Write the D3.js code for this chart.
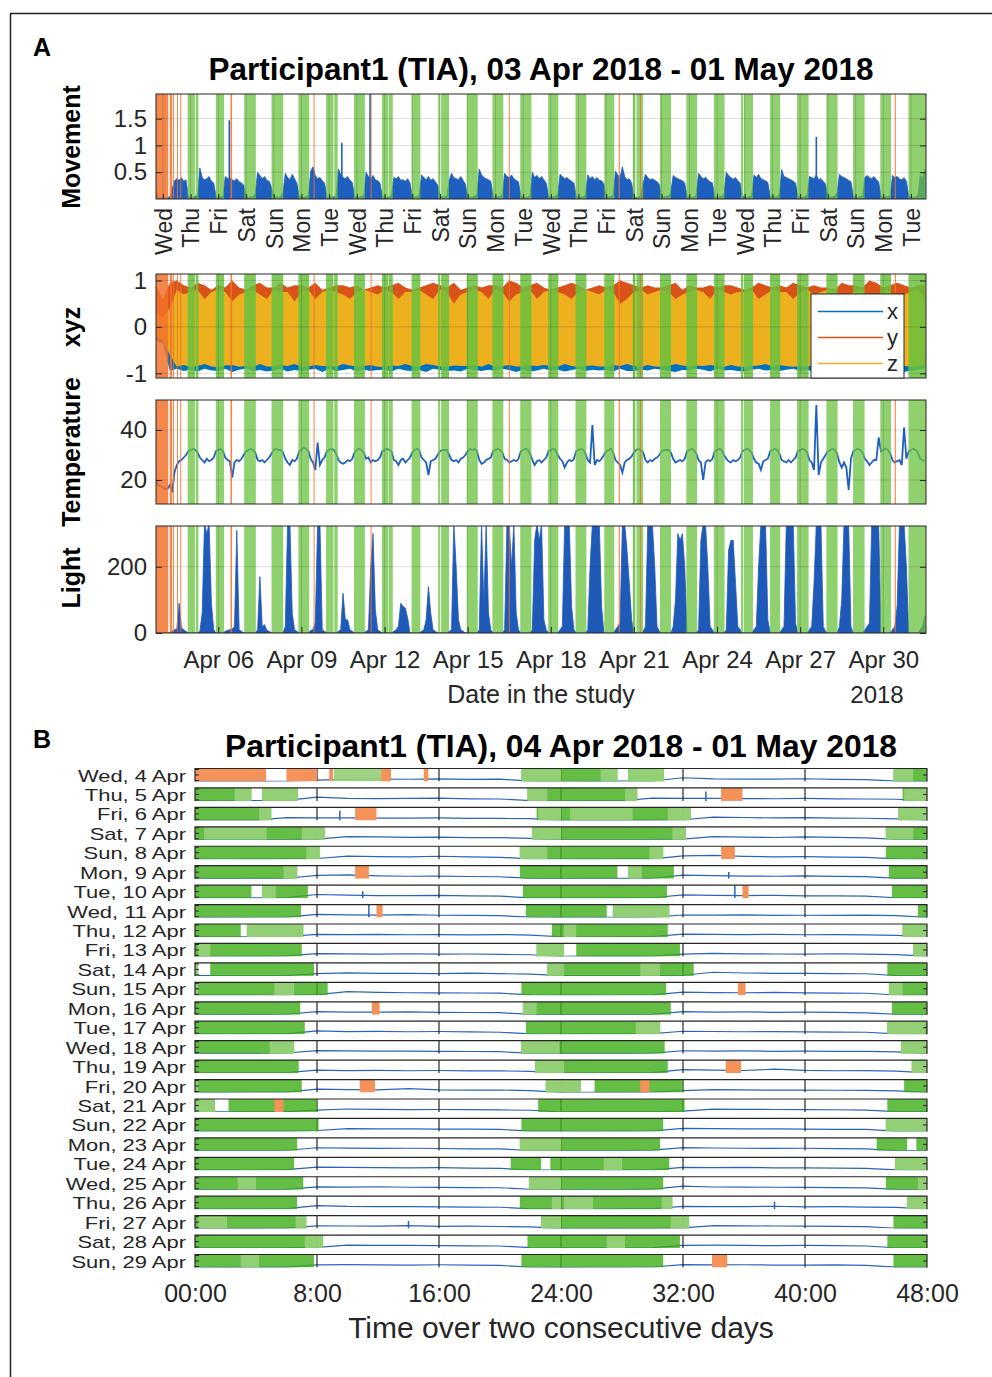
<!DOCTYPE html>
<html>
<head>
<meta charset="utf-8">
<script src="https://cdn.jsdelivr.net/npm/d3@7"></script>
<style>
  body { margin: 0; background: #fff; }
  svg text { font-family: "Liberation Sans", Arial, Helvetica, sans-serif; }
</style>
</head>
<body>
<svg id="fig" width="992" height="1377"></svg>
<script>
// all times are hours counted from Wed 4 Apr 2018 00:00
const studyStart = new Date(2018, 3, 4);
const sampleStart = -6;   // first sample: Tue 3 Apr 18:00
const sampleStep = 2;     // movement / temperature / light every 2 h
const xyzStep = 6;        // accelerometer envelope every 6 h

// movement, 2-hourly (per day: 00,02,...,22 h)
const movement = [
  0.18,0.03,0.03,                                              // 03 Apr 18-22h
  0.03,0.02,0.03,0.04,0.20,0.34,0.38,0.35,0.40,0.33,0.36,0.05, // 04
  0.04,0.03,0.05,0.08,0.58,0.40,0.36,0.38,0.42,0.33,0.30,0.05, // 05
  0.03,0.04,0.05,0.42,0.38,0.40,0.36,0.34,0.38,0.32,0.30,0.26, // 06
  0.04,0.03,0.04,0.05,0.10,0.50,0.44,0.38,0.42,0.35,0.33,0.22, // 07
  0.03,0.04,0.03,0.05,0.12,0.48,0.40,0.36,0.46,0.38,0.30,0.06, // 08
  0.04,0.03,0.05,0.07,0.52,0.60,0.44,0.38,0.40,0.34,0.30,0.05, // 09
  0.03,0.04,0.04,0.07,0.56,0.46,0.40,0.38,0.42,0.35,0.31,0.05, // 10
  0.04,0.03,0.05,0.06,0.50,0.42,0.38,0.44,0.36,0.34,0.30,0.06, // 11
  0.03,0.04,0.03,0.07,0.40,0.38,0.42,0.35,0.36,0.33,0.38,0.30, // 12
  0.04,0.03,0.05,0.08,0.45,0.40,0.36,0.42,0.35,0.38,0.32,0.26, // 13
  0.03,0.04,0.04,0.06,0.35,0.48,0.40,0.38,0.36,0.42,0.35,0.28, // 14
  0.04,0.03,0.04,0.05,0.10,0.56,0.45,0.40,0.38,0.36,0.33,0.06, // 15
  0.03,0.04,0.05,0.08,0.48,0.42,0.40,0.45,0.38,0.35,0.32,0.05, // 16
  0.04,0.03,0.04,0.06,0.50,0.40,0.44,0.38,0.42,0.36,0.30,0.06, // 17
  0.03,0.04,0.05,0.10,0.46,0.42,0.38,0.40,0.36,0.33,0.30,0.05, // 18
  0.04,0.03,0.04,0.08,0.45,0.38,0.42,0.36,0.40,0.35,0.34,0.28, // 19
  0.03,0.04,0.05,0.07,0.52,0.45,0.40,0.60,0.42,0.36,0.38,0.30, // 20
  0.04,0.03,0.04,0.06,0.30,0.46,0.40,0.36,0.38,0.35,0.32,0.27, // 21
  0.03,0.04,0.05,0.05,0.14,0.44,0.40,0.38,0.36,0.34,0.30,0.05, // 22
  0.04,0.03,0.04,0.09,0.48,0.42,0.38,0.40,0.36,0.32,0.30,0.05, // 23
  0.03,0.04,0.05,0.10,0.50,0.44,0.40,0.37,0.40,0.34,0.30,0.05, // 24
  0.04,0.03,0.04,0.07,0.45,0.40,0.46,0.38,0.36,0.34,0.31,0.06, // 25
  0.03,0.04,0.04,0.09,0.55,0.42,0.40,0.38,0.36,0.33,0.30,0.05, // 26
  0.04,0.03,0.05,0.07,0.42,0.40,0.38,0.45,0.36,0.38,0.33,0.28, // 27
  0.03,0.04,0.04,0.05,0.12,0.46,0.42,0.40,0.38,0.35,0.32,0.06, // 28
  0.04,0.03,0.05,0.06,0.40,0.44,0.40,0.38,0.42,0.36,0.32,0.05, // 29
  0.03,0.04,0.04,0.08,0.44,0.40,0.42,0.38,0.36,0.40,0.33,0.06, // 30
  0.04,0.03,0.04,0.07,0.45,0.38,0.55                           // 01 May 00-12h
];
// isolated movement spikes [hour, value]
const movementSpikes = [[57.5, 1.47], [155, 1.05], [179.4, 2.1], [566, 1.16]];

// skin temperature, 2-hourly
const temperature = [
  19.5,18,17.5,
  17,16.5,16.5,18,15,23,26,27.5,28,29,30,31.5,
  32,32.5,32,31,29,28,27,28.5,27.5,28,29,31.5,
  32,32.5,31.5,29,28,27.5,21,27,28,27.5,28.5,30,
  31.5,32,32.5,32,31,28,27.5,28,27,28,29,30.5,
  32,32.5,32,32,31,28.5,27,26,28,27.5,28.5,31.5,
  32,33,32.5,31.5,28.5,27,24,35,26,28,29,31.5,
  32,32.5,32,30.5,28,27,26.5,27,28,27.5,28.5,31,
  32,32.5,32,31,28.5,29,27,28,27.5,28,29,31.5,
  32,32.5,32,31.5,28,27.5,26,28,28.5,27,28,29,
  31,32,32.5,32,29,28,27,22,27.5,28,28.5,30,
  31.5,32,32,32,30,28,27.5,28,27,28.5,29,30,
  31.5,32.5,32,32.5,31.5,28,26.5,27,28,28.5,29,31.5,
  32,32.5,32,31,28.5,28,27,27.5,28,27.5,28.5,31.5,
  32,32.5,32,30.5,28,26,27.5,28,27,28,29,31.5,
  32,32.5,32,30,28.5,27.5,25,27,28,27.5,28.5,31.5,
  32,32.5,32,30.5,28,27,42,26,28,27.5,28.5,30,
  31.5,32,32.5,31,28,27,26,23,27,28,28.5,29.5,
  31,32,32.5,32,31,28,27,28,27.5,28.5,29,30,
  31.5,32,32,32,31,28.5,27,27.5,28,27.5,28.5,31.5,
  32,32.5,32,30.5,28,27,20,27,28,27.5,28.5,31.5,
  32,32.5,32,30,28.5,27.5,27,28,27.5,28,29,31.5,
  32,32.5,32,31,28.5,27,26.5,24,27.5,28,28.5,31.5,
  32,32.5,32,30.5,28,27.5,27,28,27,28,29,31.5,
  32,32.5,32,31,28,27,24,50,22,27,28.5,30,
  31.5,32,32.5,32,30.5,27,25,27,25,16,28.5,31.5,
  32,32.5,32,31,28.5,27.5,26,27,28,28,37,31.5,
  32,32.5,32,30.5,28,27,27.5,28,26,41,28.5,31.5,
  32,32.5,32,31,28.5,28,27.5
];

// light, 2-hourly
const light = [
  0,0,0,
  0,0,0,0,5,10,12,90,15,10,5,0,
  0,0,0,0,5,60,330,300,330,90,10,0,
  0,0,0,5,8,10,12,20,310,10,5,0,
  0,0,0,0,0,10,170,20,25,8,5,0,
  0,0,0,0,0,20,330,330,60,10,5,0,
  0,0,0,0,8,10,30,330,330,10,5,0,
  0,0,0,0,5,10,120,40,40,10,5,0,
  0,0,0,0,5,10,200,300,70,10,5,0,
  0,0,0,0,5,10,20,90,80,75,45,0,
  0,0,0,0,5,10,40,140,60,10,5,0,
  0,0,0,0,5,10,330,200,40,10,5,0,
  0,0,0,0,0,10,330,90,330,60,10,0,
  0,0,0,0,10,330,330,200,330,60,10,0,
  0,0,0,0,10,280,330,280,330,40,10,0,
  0,0,0,0,10,20,330,330,330,80,10,0,
  0,0,0,0,10,200,330,330,330,330,80,0,
  0,0,0,0,10,20,30,330,330,250,150,40,
  0,0,0,0,5,20,330,330,330,200,20,5,
  0,0,0,0,0,20,100,300,280,300,200,0,
  0,0,0,0,10,280,330,330,200,20,10,0,
  0,0,0,0,10,250,280,280,150,20,10,0,
  0,0,0,0,10,20,200,330,330,330,40,0,
  0,0,0,0,10,20,330,330,330,330,30,0,
  0,0,0,0,10,20,150,330,330,330,20,5,
  0,0,0,0,0,20,100,330,330,330,20,0,
  0,0,0,0,10,20,30,330,330,330,330,0,
  0,0,0,0,10,20,80,330,330,330,200,0,
  0,0,0,0,10,20,50
];

// accelerometer envelopes, 6-hourly (per day: 00,06,12,18 h)
const zHigh = [
  0.3,
  0.2,0.4,0.8,0.7, 0.75,0.8,0.6,0.75, 0.8,0.75,0.55,0.7, 0.75,0.8,0.7,0.6,
  0.8,0.75,0.75,0.55, 0.75,0.8,0.6,0.75, 0.8,0.75,0.7,0.6, 0.75,0.8,0.75,0.7,
  0.8,0.75,0.6,0.75, 0.75,0.8,0.7,0.6, 0.8,0.75,0.5,0.7, 0.75,0.8,0.75,0.6,
  0.8,0.75,0.55,0.7, 0.75,0.8,0.6,0.75, 0.8,0.75,0.7,0.6, 0.75,0.8,0.75,0.7,
  0.8,0.75,0.5,0.6, 0.75,0.8,0.7,0.75, 0.8,0.75,0.6,0.7, 0.75,0.8,0.75,0.6,
  0.8,0.75,0.7,0.75, 0.75,0.8,0.6,0.7, 0.8,0.75,0.75,0.6, 0.75,0.8,0.7,0.75,
  0.8,0.75,0.6,0.7, 0.75,0.8,0.5,0.6, 0.8,0.75,0.55,0.7,
  0.75,0.8,0.6
];
const zLow = [
  -0.2,
  -0.3,-0.6,-0.85,-0.82, -0.86,-0.84,-0.8,-0.85, -0.87,-0.83,-0.82,-0.86, -0.84,-0.86,-0.8,-0.85,
  -0.85,-0.82,-0.84,-0.8, -0.86,-0.85,-0.82,-0.84, -0.84,-0.86,-0.8,-0.83, -0.85,-0.84,-0.82,-0.86,
  -0.86,-0.83,-0.84,-0.8, -0.84,-0.85,-0.8,-0.82, -0.85,-0.86,-0.83,-0.84, -0.84,-0.82,-0.86,-0.8,
  -0.86,-0.84,-0.82,-0.85, -0.85,-0.83,-0.84,-0.82, -0.84,-0.86,-0.8,-0.84, -0.86,-0.84,-0.83,-0.85,
  -0.85,-0.82,-0.84,-0.8, -0.84,-0.86,-0.82,-0.85, -0.86,-0.84,-0.8,-0.83, -0.85,-0.83,-0.84,-0.82,
  -0.84,-0.86,-0.82,-0.85, -0.86,-0.84,-0.83,-0.8, -0.85,-0.82,-0.84,-0.86, -0.84,-0.85,-0.82,-0.83,
  -0.86,-0.84,-0.8,-0.85, -0.85,-0.83,-0.84,-0.82, -0.84,-0.86,-0.82,-0.84,
  -0.85,-0.84,-0.82
];
const yHigh = [
  0.9,
  0.6,0.95,1.0,0.9, 0.85,0.95,0.9,0.8, 0.9,0.85,1.0,0.85, 0.8,0.9,0.95,0.85,
  0.85,0.95,0.85,0.9, 0.9,0.85,0.95,0.8, 0.85,0.9,0.9,0.85, 0.9,0.8,0.85,0.9,
  0.85,0.9,0.95,0.85, 0.8,0.85,0.9,0.95, 0.9,0.85,0.95,0.8, 0.85,0.9,0.85,0.9,
  0.9,0.85,1.0,0.95, 0.85,0.9,0.95,0.85, 0.8,0.85,0.9,0.95, 0.9,0.8,0.85,0.9,
  0.85,0.9,1.0,0.95, 0.9,0.85,0.9,0.85, 0.85,0.9,0.95,0.8, 0.9,0.85,0.85,0.9,
  0.85,0.9,0.9,0.85, 0.8,0.85,0.95,0.9, 0.85,0.9,0.85,0.95, 0.9,0.85,0.9,0.85,
  0.85,0.8,0.95,0.9, 0.9,0.85,1.0,0.95, 0.85,0.9,0.95,0.9,
  0.85,0.9,0.9
];
const xLow = [
  -0.3,
  -0.35,-0.95,-0.9,-0.95, -0.92,-0.96,-0.9,-0.94, -0.95,-0.9,-0.97,-0.92, -0.9,-0.95,-0.93,-0.96,
  -0.94,-0.9,-0.96,-0.93, -0.95,-0.92,-0.9,-0.97, -0.9,-0.95,-0.93,-0.9, -0.96,-0.92,-0.95,-0.93,
  -0.92,-0.96,-0.9,-0.94, -0.95,-0.93,-0.97,-0.9, -0.92,-0.95,-0.94,-0.96, -0.9,-0.93,-0.95,-0.92,
  -0.95,-0.9,-0.93,-0.97, -0.92,-0.96,-0.94,-0.9, -0.94,-0.92,-0.96,-0.93, -0.9,-0.95,-0.92,-0.94,
  -0.93,-0.96,-0.9,-0.95, -0.95,-0.92,-0.94,-0.9, -0.92,-0.95,-0.97,-0.93, -0.94,-0.9,-0.92,-0.96,
  -0.9,-0.94,-0.93,-0.95, -0.96,-0.92,-0.9,-0.94, -0.93,-0.95,-0.92,-0.9, -0.95,-0.93,-0.96,-0.92,
  -0.92,-0.9,-0.95,-0.94, -0.94,-0.96,-0.92,-0.9, -0.9,-0.93,-0.95,-0.97,
  -0.94,-0.92,-0.9
];

// detected sleep (green), lighter sleep shading and non-wear (orange), [start, end] hours
const sleepEpisodes = [
  [21.4,27.7],[28.4,30.75],[45.8,53.0],[70.4,80.5],[94.1,104.2],[117.3,126.7],
  [141.3,147.7],[148.4,151.4],[165.5,174.95],[189.7,195.0],[195.4,199.1],[215.4,223.0],
  [238.4,240.2],[241.0,247.8],[263.1,272.7],[285.4,294.9],[309.5,319.2],[333.7,342.5],
  [357.4,366.8],[382.3,391.0],[407.0,409.3],[410.2,416.0],[430.5,440.1],[453.4,462.7],
  [477.3,486.5],[500.7,502.7],[503.3,511.1],[525.9,534.7],[549.3,559.3],[574.7,584.4],
  [597.8,607.8],[621.4,630.7],[645.8,661]
];
const lightSleep = [
  [9.1,12.2],[21.4,24.0],[26.6,27.7],[28.4,30.75],[45.8,47.1],[52.2,53.0],
  [70.5,72.0],[72.6,76.7],[79.0,80.5],[94.1,96.0],[103.3,104.2],[117.3,119.1],
  [125.8,126.7],[148.4,149.3],[195.4,199.1],[216.2,217.0],[238.4,240.2],[263.1,264.2],
  [269.2,270.5],[309.5,310.4],[340.9,342.5],[357.4,359.9],[382.3,384.2],[407.0,409.3],
  [477.3,480.0],[506.8,508.0],[525.9,528.0],[551.4,552.0],[552.2,554.1],[558.6,559.3],
  [574.7,576.0],[583.2,584.4],[603.0,604.2]
];
const nonWear = [
  [-6,4.66],[6.0,8.0],[8.8,9.05],[12.2,12.85],[15.0,15.3],[58.5,59.9],[130.5,131.4],
  [179.9,180.3],[299.6,300.1],[394.8,395.8],[413.2,413.8],[633.9,634.9]
];

const dateTickDays = [6, 9, 12, 15, 18, 21, 24, 27, 30];   // April
const rowCount = 26;                                        // Wed 4 Apr .. Sun 29 Apr
const clockTicks = [0, 8, 16, 24, 32, 40, 48];

// ------------------------------------------------------------------
const svg = d3.select("#fig");
const toDate = h => new Date(+studyStart + h * 3600e3);
const samples = (arr, step) => arr.map((v, i) => ({ t: sampleStart + i * step, v }));
const ink = "#262626";

svg.append("rect").attr("x", 10.5).attr("y", 13.5).attr("width", 990).attr("height", 1370)
  .attr("fill", "none").attr("stroke", "#222").attr("stroke-width", 1.5);

// ---------------- panel A ----------------
const xA = d3.scaleTime().domain([toDate(-6), toDate(661)]).range([156, 926]);
const [aL, aR] = xA.range();
const dayTicks = d3.timeDay.range(toDate(0), toDate(27 * 24 + 1));
const dateTicks = dateTickDays.map(d => new Date(2018, 3, d));

svg.append("text").attr("x", 33).attr("y", 56).attr("font-size", 25).attr("font-weight", "bold").text("A");
svg.append("text").attr("x", 541).attr("y", 80).attr("text-anchor", "middle")
  .attr("font-size", 31).attr("font-weight", "bold")
  .attr("textLength", 665).attr("lengthAdjust", "spacingAndGlyphs")
  .text("Participant1 (TIA), 03 Apr 2018 - 01 May 2018");

function makePanel(id, top, bottom, domain, ticks, label, labelY) {
  const y = d3.scaleLinear().domain(domain).range([bottom, top]);
  svg.append("clipPath").attr("id", id).append("rect")
    .attr("x", aL).attr("y", top).attr("width", aR - aL).attr("height", bottom - top);
  const g = svg.append("g");
  const plot = g.append("g").attr("clip-path", `url(#${id})`);
  svg.append("text").attr("transform", `translate(80,${labelY}) rotate(-90)`)
    .attr("text-anchor", "middle").attr("font-size", 25).attr("font-weight", "bold").text(label);
  return { y, g, plot, top, bottom, ticks };
}

function finishPanel(p, vTicks, greenOpacity) {
  const band = (data, fill, op) => p.plot.append("g").selectAll("rect").data(data).join("rect")
    .attr("x", d => xA(toDate(d[0]))).attr("y", p.top)
    .attr("width", d => Math.max(1, xA(toDate(d[1])) - xA(toDate(d[0]))))
    .attr("height", p.bottom - p.top).attr("fill", fill).attr("fill-opacity", op);
  band(sleepEpisodes, "#69c13d", greenOpacity);
  band(nonWear, "#f2722b", 0.85);

  p.plot.append("g").selectAll("line").data(p.ticks).join("line")
    .attr("x1", aL).attr("x2", aR).attr("y1", d => p.y(d)).attr("y2", d => p.y(d))
    .attr("stroke", "#000").attr("stroke-opacity", 0.13);
  p.plot.append("g").selectAll("line").data(vTicks).join("line")
    .attr("x1", d => xA(d)).attr("x2", d => xA(d)).attr("y1", p.top).attr("y2", p.bottom)
    .attr("stroke", "#000").attr("stroke-opacity", 0.15);

  const left = p.g.append("g").attr("transform", `translate(${aL},0)`)
    .call(d3.axisLeft(p.y).tickValues(p.ticks).tickFormat(d => String(d)).tickSize(-6).tickPadding(9))
    .attr("font-family", null).attr("font-size", 24);
  left.select(".domain").remove();
  left.selectAll("text").attr("fill", ink);
  left.selectAll("line").attr("stroke", ink);
  const right = p.g.append("g").attr("transform", `translate(${aR},0)`)
    .call(d3.axisRight(p.y).tickValues(p.ticks).tickSize(-6).tickFormat(""));
  right.select(".domain").remove();
  right.selectAll("line").attr("stroke", ink);
  p.g.append("rect").attr("x", aL).attr("y", p.top).attr("width", aR - aL).attr("height", p.bottom - p.top)
    .attr("fill", "none").attr("stroke", ink).attr("stroke-width", 1);
}

// Movement
const pm = makePanel("clipMov", 94, 199, [0, 1.96], [0.5, 1, 1.5], "Movement", 147);
pm.plot.append("path").datum(samples(movement, sampleStep))
  .attr("d", d3.area().x(d => xA(toDate(d.t))).y0(pm.y(0)).y1(d => pm.y(d.v)))
  .attr("fill", "#1f5fbf").attr("stroke", "#1f5fbf").attr("stroke-width", 0.8);
pm.plot.append("g").selectAll("line").data(movementSpikes).join("line")
  .attr("x1", d => xA(toDate(d[0]))).attr("x2", d => xA(toDate(d[0])))
  .attr("y1", pm.y(0)).attr("y2", d => pm.y(d[1]))
  .attr("stroke", "#1f5fbf").attr("stroke-width", 1.6);
finishPanel(pm, dayTicks, 0.75);

const dayAxis = pm.g.append("g").attr("transform", `translate(0,${pm.bottom})`)
  .call(d3.axisBottom(xA).tickValues(dayTicks).tickFormat(d3.timeFormat("%a")).tickSize(-5).tickSizeOuter(0))
  .attr("font-family", null).attr("font-size", 23);
dayAxis.select(".domain").remove();
dayAxis.selectAll("line").attr("stroke", ink);
dayAxis.selectAll("text").attr("fill", ink).attr("transform", "rotate(-90)")
  .attr("x", -9).attr("y", 0).attr("dy", "0.36em").attr("text-anchor", "end");

// xyz
const px = makePanel("clipXyz", 274, 378, [-1.1, 1.14], [-1, 0, 1], "xyz", 327);
const bandArea = (lo, hi) => d3.range(lo.length).map(i => ({ t: sampleStart + i * xyzStep, lo: lo[i], hi: hi[i] }));
const areaLH = d3.area().x(d => xA(toDate(d.t))).y0(d => px.y(d.lo)).y1(d => px.y(d.hi));
px.plot.append("path").datum(bandArea(xLow, xLow.map(() => 0))).attr("d", areaLH).attr("fill", "#0072BD");
px.plot.append("path").datum(bandArea(yHigh.map(() => 0), yHigh)).attr("d", areaLH).attr("fill", "#D95319");
px.plot.append("path").datum(bandArea(zLow, zHigh)).attr("d", areaLH).attr("fill", "#EDB120");
finishPanel(px, dateTicks, 0.85);

// legend
const lg = svg.append("g");
lg.append("rect").attr("x", 811).attr("y", 294).attr("width", 93).attr("height", 84)
  .attr("fill", "#fff").attr("stroke", ink).attr("stroke-width", 1);
const legendItems = [["x", "#0072BD"], ["y", "#D95319"], ["z", "#EDB120"]];
legendItems.forEach(([name, col], i) => {
  const yy = 311.5 + i * 26;
  lg.append("line").attr("x1", 818).attr("x2", 883).attr("y1", yy).attr("y2", yy)
    .attr("stroke", col).attr("stroke-width", 1.5);
  lg.append("text").attr("x", 887).attr("y", yy + 7).attr("font-size", 22).attr("fill", ink).text(name);
});

// Temperature
const pt = makePanel("clipTemp", 400, 504, [10.4, 52], [20, 40], "Temperature", 452);
pt.plot.append("path").datum(samples(temperature, sampleStep))
  .attr("d", d3.line().x(d => xA(toDate(d.t))).y(d => pt.y(d.v)))
  .attr("fill", "none").attr("stroke", "#1f5fbf").attr("stroke-width", 1.8);
finishPanel(pt, dateTicks, 0.75);

// Light
const pl = makePanel("clipLight", 526, 633, [0, 323], [0, 200], "Light", 578);
pl.plot.append("path").datum(samples(light, sampleStep))
  .attr("d", d3.area().x(d => xA(toDate(d.t))).y0(pl.y(0)).y1(d => pl.y(d.v)))
  .attr("fill", "#1f5ab8").attr("stroke", "#1f5ab8").attr("stroke-width", 0.8);
finishPanel(pl, dateTicks, 0.75);

const dateAxis = pl.g.append("g").attr("transform", `translate(0,${pl.bottom})`)
  .call(d3.axisBottom(xA).tickValues(dateTicks).tickFormat(d3.timeFormat("%b %d")).tickSize(-6).tickSizeOuter(0).tickPadding(18))
  .attr("font-family", null).attr("font-size", 24);
dateAxis.select(".domain").remove();
dateAxis.selectAll("line").attr("stroke", ink);
dateAxis.selectAll("text").attr("fill", ink);
svg.append("text").attr("x", 541).attr("y", 703).attr("text-anchor", "middle")
  .attr("font-size", 25).attr("fill", ink).text("Date in the study");
svg.append("text").attr("x", 877).attr("y", 703).attr("text-anchor", "middle")
  .attr("font-size", 24).attr("fill", ink).text("2018");

// ---------------- panel B ----------------
svg.append("text").attr("x", 33).attr("y", 748).attr("font-size", 25).attr("font-weight", "bold").text("B");
svg.append("text").attr("x", 561).attr("y", 757).attr("text-anchor", "middle")
  .attr("font-size", 31).attr("font-weight", "bold")
  .attr("textLength", 672).attr("lengthAdjust", "spacingAndGlyphs")
  .text("Participant1 (TIA), 04 Apr 2018 - 01 May 2018");

const xB = d3.scaleLinear().domain([0, 48]).range([195, 927]);
const [bL, bR] = xB.range();
const rows = d3.range(rowCount);
const rowY = d3.scalePoint().domain(rows).range([775, 1261]);
const rowH = 13;
const yRow = d3.scaleLinear().domain([0, 2]).range([rowH / 2, -rowH / 2]);
svg.append("clipPath").attr("id", "clipRow").append("rect")
  .attr("x", bL).attr("y", -rowH / 2).attr("width", bR - bL).attr("height", rowH);

const movSamples = samples(movement, sampleStep);
const rowLabel = d3.timeFormat("%a, %-d %b");

rows.forEach(d => {
  const w0 = d * 24, w1 = w0 + 48;
  const inWin = eps => eps.filter(e => e[1] > w0 && e[0] < w1)
    .map(e => [Math.max(e[0], w0) - w0, Math.min(e[1], w1) - w0]);
  const g = svg.append("g").attr("transform", `translate(0,${rowY(d)})`);
  const plot = g.append("g").attr("clip-path", "url(#clipRow)");

  plot.append("path").datum(movSamples.filter(s => s.t >= w0 - 2 && s.t <= w1 + 2))
    .attr("d", d3.line().x(s => xB(s.t - w0)).y(s => yRow(s.v)))
    .attr("fill", "none").attr("stroke", "#2a64b8").attr("stroke-width", 1.2);
  plot.append("g").selectAll("line").data(movementSpikes.filter(s => s[0] > w0 && s[0] < w1)).join("line")
    .attr("x1", s => xB(s[0] - w0)).attr("x2", s => xB(s[0] - w0))
    .attr("y1", yRow(0)).attr("y2", s => yRow(s[1]))
    .attr("stroke", "#2a64b8").attr("stroke-width", 1.5);

  // frame and 8-hour grid
  plot.append("g").selectAll("line").data(clockTicks.slice(1, -1)).join("line")
    .attr("x1", h => xB(h)).attr("x2", h => xB(h)).attr("y1", -rowH / 2).attr("y2", rowH / 2)
    .attr("stroke", ink).attr("stroke-width", 1.2);
  g.append("path").attr("d", `M${bL},${rowH / 2}V${-rowH / 2}H${bR}V${rowH / 2}`)
    .attr("fill", "none").attr("stroke", ink).attr("stroke-width", 1.2);
  g.append("g").selectAll("line").data([-rowH / 2 + 1, 0, rowH / 2 - 1]).join("line")
    .attr("x1", bL).attr("x2", bL + 4).attr("y1", v => v).attr("y2", v => v)
    .attr("stroke", ink).attr("stroke-width", 1);
  g.append("line").attr("x1", bR - 4).attr("x2", bR).attr("y1", 0).attr("y2", 0)
    .attr("stroke", ink).attr("stroke-width", 1);

  const block = (data, fill, op) => plot.append("g").selectAll("rect").data(inWin(data)).join("rect")
    .attr("x", e => xB(e[0])).attr("width", e => Math.max(1.5, xB(e[1]) - xB(e[0])))
    .attr("y", -rowH / 2).attr("height", rowH).attr("fill", fill).attr("fill-opacity", op);
  block(sleepEpisodes, "#3dac16", 0.8);
  block(lightSleep, "#96d079", 0.92);
  block(nonWear, "#f4925a", 1);

  // labels kept within the row pitch; stretched to the reference width
  const lab = g.append("text").attr("x", 186).attr("y", 6.5).attr("text-anchor", "end")
    .attr("font-size", 17).attr("fill", ink).text(rowLabel(toDate(w0)));
  lab.attr("textLength", lab.node().getComputedTextLength() * 1.29).attr("lengthAdjust", "spacingAndGlyphs");
});

const bAxis = svg.append("g").attr("transform", `translate(0,${rowY(rowCount - 1) + rowH / 2})`)
  .call(d3.axisBottom(xB).tickValues(clockTicks).tickFormat(h => (h === 0 ? "00" : h) + ":00").tickSize(0).tickPadding(17))
  .attr("font-family", null).attr("font-size", 25);
bAxis.select(".domain").remove();
bAxis.selectAll("text").attr("fill", ink);
svg.append("text").attr("x", 561).attr("y", 1338).attr("text-anchor", "middle")
  .attr("font-size", 30).attr("fill", ink).text("Time over two consecutive days");
</script>
</body>
</html>
